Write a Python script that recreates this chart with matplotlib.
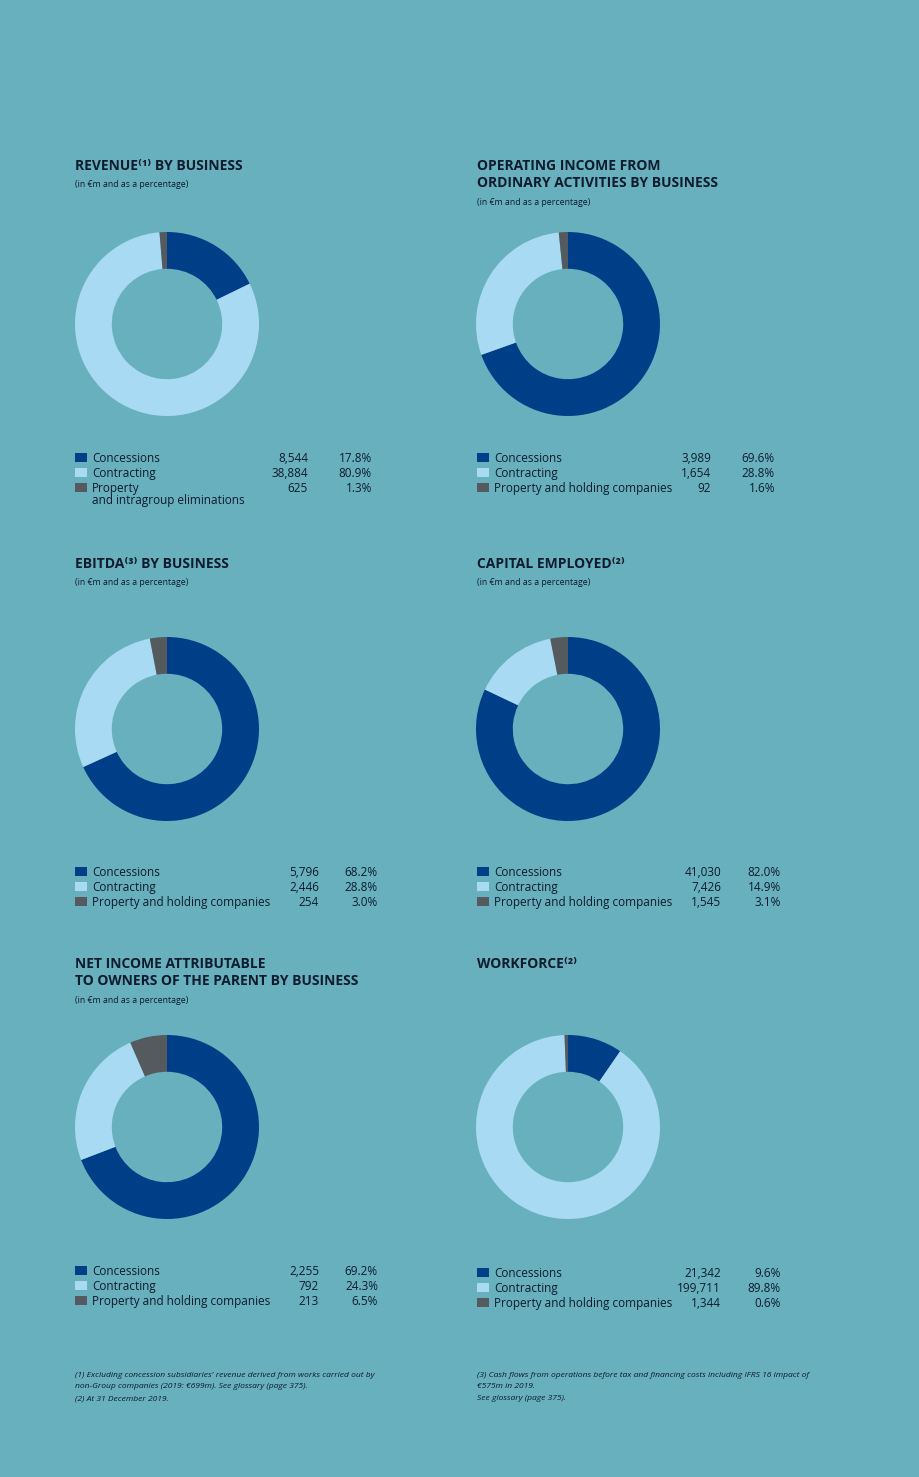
import matplotlib
matplotlib.use('Agg')
import matplotlib.pyplot as plt
from matplotlib.patches import Rectangle

W, H = 920, 1477
BG = '#69b0bf'
DARK = '#003f87'
LIGHT = '#a8daf3'
GREY = '#555a5e'
TXT = '#0b1c2c'
FONT = ['Open Sans', 'DejaVu Sans']

# --- data ---
revenue_labels = ['Concessions', 'Contracting', 'Property\nand intragroup eliminations']
revenue_values = [8544, 38884, 625]
revenue_pct = ['17.8%', '80.9%', '1.3%']

opinc_labels = ['Concessions', 'Contracting', 'Property and holding companies']
opinc_values = [3989, 1654, 92]
opinc_pct = ['69.6%', '28.8%', '1.6%']

ebitda_labels = ['Concessions', 'Contracting', 'Property and holding companies']
ebitda_values = [5796, 2446, 254]
ebitda_pct = ['68.2%', '28.8%', '3.0%']

capemp_labels = ['Concessions', 'Contracting', 'Property and holding companies']
capemp_values = [41030, 7426, 1545]
capemp_pct = ['82.0%', '14.9%', '3.1%']

netinc_labels = ['Concessions', 'Contracting', 'Property and holding companies']
netinc_values = [2255, 792, 213]
netinc_pct = ['69.2%', '24.3%', '6.5%']

workforce_labels = ['Concessions', 'Contracting', 'Property and holding companies']
workforce_values = [21342, 199711, 1344]
workforce_pct = ['9.6%', '89.8%', '0.6%']

colors = [DARK, LIGHT, GREY]

fig = plt.figure(figsize=(W / 100, H / 100), dpi=100)
fig.patch.set_facecolor(BG)


def fx(x):
    return x / W


def fy(y):
    return 1 - y / H


def txt(x, y, s, size, **kw):
    fig.text(fx(x), fy(y), s, fontsize=size, color=TXT, family=FONT,
             va='baseline', **kw)


def title(x, y, lines, sub_y):
    for i, line in enumerate(lines):
        txt(x, y + i * 17, line, 10, fontweight='bold')
    if sub_y is not None:
        txt(x, sub_y, '(in €m and as a percentage)', 6.3)


def donut(cx, cy, values, r=92):
    ax = fig.add_axes([fx(cx - r), fy(cy + r), 2 * r / W, 2 * r / H])
    ax.pie(values, colors=colors, startangle=90, counterclock=False,
           radius=1, wedgeprops=dict(width=0.4, linewidth=0))
    ax.set_xlim(-1, 1)
    ax.set_ylim(-1, 1)
    ax.axis('off')


def legend(x, y, labels, values, pcts, num_x, pct_x):
    for i, (lab, val, pct) in enumerate(zip(labels, values, pcts)):
        yy = y + i * 15
        fig.patches.append(Rectangle((fx(x), fy(yy)), 12 / W, 9 / H,
                                     transform=fig.transFigure,
                                     facecolor=colors[i], edgecolor='none'))
        lines = lab.split('\n')
        for j, l in enumerate(lines):
            txt(x + 17, yy + j * 12, l, 8.5)
        txt(num_x, yy, f'{val:,}', 8.5, ha='right')
        txt(pct_x, yy, pct, 8.5, ha='right')


# row 1
title(75, 170, ['REVENUE⁽¹⁾ BY BUSINESS'], 187)
donut(167, 324, revenue_values)
legend(75, 462, revenue_labels, revenue_values, revenue_pct, 308, 372)

title(477, 170, ['OPERATING INCOME FROM', 'ORDINARY ACTIVITIES BY BUSINESS'], 205)
donut(568, 324, opinc_values)
legend(477, 462, opinc_labels, opinc_values, opinc_pct, 711, 775)

# row 2
title(75, 568, ['EBITDA⁽³⁾ BY BUSINESS'], 585)
donut(167, 729, ebitda_values)
legend(75, 876, ebitda_labels, ebitda_values, ebitda_pct, 319, 378)

title(477, 568, ['CAPITAL EMPLOYED⁽²⁾'], 585)
donut(568, 729, capemp_values)
legend(477, 876, capemp_labels, capemp_values, capemp_pct, 721, 781)

# row 3
title(75, 968, ['NET INCOME ATTRIBUTABLE', 'TO OWNERS OF THE PARENT BY BUSINESS'], 1003)
donut(167, 1127, netinc_values)
legend(75, 1275, netinc_labels, netinc_values, netinc_pct, 319, 378)

title(477, 968, ['WORKFORCE⁽²⁾'], None)
donut(568, 1127, workforce_values)
legend(477, 1277, workforce_labels, workforce_values, workforce_pct, 721, 781)

# footnotes
notes_left = ["(1) Excluding concession subsidiaries' revenue derived from works carried out by",
              "non-Group companies (2019: €699m). See glossary (page 375).",
              "(2) At 31 December 2019."]
notes_right = ["(3) Cash flows from operations before tax and financing costs including IFRS 16 impact of",
               "€575m in 2019.",
               "See glossary (page 375)."]
for i, s in enumerate(notes_left):
    txt(75, 1377 + i * 11.5, s, 6.1, style='italic')
for i, s in enumerate(notes_right):
    txt(477, 1377 + i * 11.5, s, 6.1, style='italic')

fig.savefig('out.png', dpi=100, facecolor=BG)
